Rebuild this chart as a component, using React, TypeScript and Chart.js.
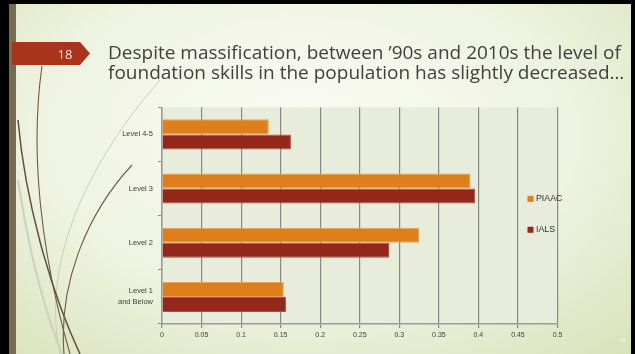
import React, { useEffect, useRef } from 'react';
import { Chart, registerables } from 'chart.js';

Chart.register(...registerables);

// Skill levels, listed top to bottom
const categories: string[][] = [['Level 4-5'], ['Level 3'], ['Level 2'], ['Level 1', 'and Below']];
const seriesNames = ['PIAAC', 'IALS'];
const piaacValues = [0.135, 0.39, 0.325, 0.154];
const ialsValues = [0.163, 0.396, 0.287, 0.157];
const xTickLabels = ['0', '0.05', '0.1', '0.15', '0.2', '0.25', '0.3', '0.35', '0.4', '0.45', '0.5'];
const seriesColors = ['#df7f1b', '#93281a'];
const seriesEdges = ['#e8a05a', '#b0503f'];

const titleLines = [
  'Despite massification, between \u201990s and 2010s the level of',
  'foundation skills in the population has slightly decreased\u2026',
];

const plotBackground = {
  id: 'plotBackground',
  beforeDraw(chart: any) {
    const { ctx, chartArea } = chart;
    ctx.save();
    ctx.fillStyle = '#e8eddb';
    ctx.fillRect(chartArea.left, chartArea.top, chartArea.right - chartArea.left, chartArea.bottom - chartArea.top);
    ctx.restore();
  },
};

// Legend drawn inside the plot, near its right edge
const insideLegend = {
  id: 'insideLegend',
  afterDraw(chart: any) {
    const { ctx, chartArea } = chart;
    const x = chartArea.right - 30;
    const y0 = chartArea.top + 88.5;
    ctx.save();
    ctx.font = '8.8px "Liberation Sans", Arial, sans-serif';
    ctx.textBaseline = 'middle';
    chart.data.datasets.forEach((ds: any, i: number) => {
      const y = y0 + i * 31;
      ctx.fillStyle = ds.backgroundColor;
      ctx.fillRect(x, y, 6, 6);
      ctx.fillStyle = '#303030';
      ctx.fillText(ds.label, x + 8.5, y + 3);
    });
    ctx.restore();
  },
};

function BarChart() {
  const ref = useRef<HTMLCanvasElement | null>(null);

  useEffect(() => {
    if (!ref.current) return;
    const chart = new Chart(ref.current, {
      type: 'bar',
      data: {
        labels: categories,
        datasets: [
          {
            label: seriesNames[0],
            data: piaacValues,
            backgroundColor: seriesColors[0],
            borderColor: seriesEdges[0],
            borderWidth: 1,
            categoryPercentage: 0.555,
            barPercentage: 1,
          },
          {
            label: seriesNames[1],
            data: ialsValues,
            backgroundColor: seriesColors[1],
            borderColor: seriesEdges[1],
            borderWidth: 1,
            categoryPercentage: 0.555,
            barPercentage: 1,
          },
        ],
      },
      options: {
        indexAxis: 'y',
        responsive: false,
        animation: false,
        devicePixelRatio: 1,
        layout: { padding: { left: 100, right: 77.5, top: 107.3, bottom: 10 } },
        plugins: {
          legend: { display: false },
          tooltip: { enabled: false },
        },
        scales: {
          x: {
            min: 0,
            max: 0.5,
            ticks: {
              stepSize: 0.05,
              autoSkip: false,
              maxRotation: 0,
              padding: 3,
              color: '#404040',
              font: { family: '"Liberation Sans", Arial, sans-serif', size: 7 },
              callback: (_v: any, i: number) => xTickLabels[i],
            },
            grid: { color: '#888888', lineWidth: 1.2, tickLength: 4 },
            border: { color: '#9a9a9a', width: 1.5 },
            afterFit(scale: any) {
              scale.height = 20;
            },
          },
          y: {
            ticks: {
              padding: 5,
              color: '#404040',
              font: { family: '"Liberation Sans", Arial, sans-serif', size: 7.5, lineHeight: 1.47 },
            },
            grid: { drawOnChartArea: false, drawTicks: true, tickLength: 4, offset: true, color: '#8c8c8c' },
            border: { color: '#9a9a9a', width: 1.5 },
            afterFit(scale: any) {
              scale.width = 62;
            },
          },
        },
      },
      plugins: [plotBackground, insideLegend],
    });
    return () => chart.destroy();
  }, []);

  return <canvas ref={ref} width={635} height={354} style={{ position: 'absolute', left: 0, top: 0 }} />;
}

export default function App() {
  return (
    <div
      style={{
        position: 'fixed',
        left: 0,
        top: 0,
        width: 635,
        height: 354,
        overflow: 'hidden',
        background:
          'radial-gradient(ellipse 75% 85% at 48% 38%, #fbfcf6 0%, #eff3e1 55%, #d9e2ba 100%)',
      }}
    >
      <svg width={635} height={354} style={{ position: 'absolute', left: 0, top: 0 }}>
        {/* slide frame */}
        <rect x={0} y={0} width={635} height={4} fill="#000" />
        <rect x={0} y={0} width={9} height={354} fill="#000" />
        <rect x={9} y={4} width={7} height={350} fill="#776b50" />
        <rect x={631} y={0} width={4} height={354} fill="#000" />
        {/* sweeping lines at the lower left */}
        <path d="M 160 80 C 90 160, 40 260, 60 354" stroke="#c9cfb6" strokeWidth={1} fill="none" />
        <path d="M 18 180 C 30 260, 48 320, 62 354" stroke="#cdd3be" strokeWidth={2.2} fill="none" />
        <path d="M 42 66 C 30 150, 40 250, 70 354" stroke="#6b5d45" strokeWidth={1.1} fill="none" />
        <path d="M 18 120 C 25 200, 50 290, 80 354" stroke="#5f523b" strokeWidth={1.5} fill="none" />
        <path d="M 132 165 C 90 210, 58 280, 64 354" stroke="#6b5d43" strokeWidth={1.1} fill="none" />
        {/* slide number badge */}
        <polygon points="12,42 80,42 90,53.5 80,65 12,65" fill="#a8341a" />
        <text
          x={65}
          y={58.5}
          textAnchor="middle"
          fill="#f4e4dc"
          style={{ font: '13px "Open Sans", sans-serif' }}
        >
          18
        </text>
        <text x={623} y={342} textAnchor="middle" fill="rgba(255,255,255,0.8)" style={{ font: '5px sans-serif' }}>
          18
        </text>
      </svg>
      <div
        style={{
          position: 'absolute',
          left: 108,
          top: 41.7,
          font: '19px "Open Sans", sans-serif',
          lineHeight: '20px',
          color: '#404040',
          whiteSpace: 'nowrap',
        }}
      >
        {titleLines.map((t) => (
          <div key={t}>{t}</div>
        ))}
      </div>
      <BarChart />
    </div>
  );
}
